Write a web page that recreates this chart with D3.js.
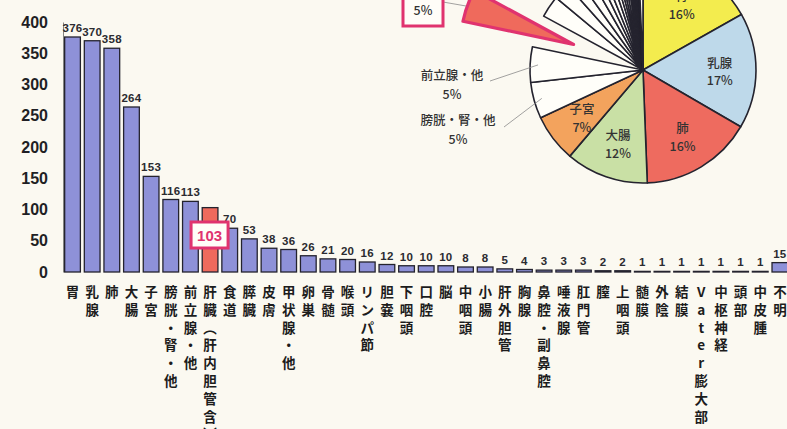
<!DOCTYPE html>
<html>
<head>
<meta charset="utf-8">
<script src="https://cdn.jsdelivr.net/npm/d3@7"></script>
<style>
  html, body { margin: 0; padding: 0; background: #fbf9f1; }
  svg { display: block; }
</style>
</head>
<body>
<svg id="chart" width="787" height="429"></svg>
<script>
// 部位別の件数
const categories = [
  "胃", "乳腺", "肺", "大腸", "子宮", "膀胱・腎・他", "前立腺・他", "肝臓︵肝内胆管含︶",
  "食道", "膵臓", "皮膚", "甲状腺・他", "卵巣", "骨髄", "喉頭", "リンパ節", "胆嚢",
  "下咽頭", "口腔", "脳", "中咽頭", "小腸", "肝外胆管", "胸腺", "鼻腔・副鼻腔",
  "唾液腺", "肛門管", "膣", "上咽頭", "髄膜", "外陰", "結膜", "Vater膨大部",
  "中枢神経", "頭部", "中皮腫", "不明"
];
const counts = [
  376, 370, 358, 264, 153, 116, 113, 103, 70, 53, 38, 36, 26, 21, 20, 16, 12,
  10, 10, 10, 8, 8, 5, 4, 3, 3, 3, 2, 2, 1, 1, 1, 1, 1, 1, 1, 15
];
const yTicks = [0, 50, 100, 150, 200, 250, 300, 350, 400];
const highlightIndex = 7;

// 円グラフのラベル(上位の部位)
const pieLabels = ["胃", "乳腺", "肺", "大腸", "子宮", "膀胱・腎・他", "前立腺・他", "肝臓"];
const piePercents = ["16%", "17%", "16%", "12%", "7%", "5%", "5%", "5%"];
const pieColors = ["#f3ec4e", "#bed9ea", "#ee6b5f", "#c9e0a5", "#f3a35d"];

const svg = d3.select("#chart");
const ink = "#24232e";
const accent = "#e0336f";
const barFill = "#8e91d8";
const hiFill = "#ef6a5c";

// ---------- 棒グラフ ----------
const x = d3.scaleBand()
  .domain(d3.range(categories.length))
  .range([62.7, 789.7])
  .paddingInner(0.2)
  .paddingOuter(0.1);
const y = d3.scaleLinear().domain([0, 400]).range([272, 22]);

const yAxis = svg.append("g")
  .attr("transform", "translate(63,0)")
  .call(d3.axisLeft(y).tickValues(yTicks).tickSize(0).tickPadding(15));
yAxis.select(".domain").attr("stroke", "#666").attr("stroke-width", 0.8);
yAxis.selectAll("text")
  .attr("font-family", "Liberation Sans, Arial, sans-serif")
  .attr("font-weight", "bold")
  .attr("font-size", 16)
  .attr("fill", "#1f1f24");

svg.append("g").selectAll("rect")
  .data(counts)
  .join("rect")
  .attr("x", (d, i) => x(i))
  .attr("width", x.bandwidth())
  .attr("y", d => y(d))
  .attr("height", d => y(0) - y(d))
  .attr("fill", (d, i) => i === highlightIndex ? hiFill : barFill)
  .attr("stroke", ink)
  .attr("stroke-width", 1.3);

// 値ラベル(肝臓は囲みで表示)
svg.append("g").selectAll("text")
  .data(counts.map((v, i) => ({ v, i })).filter(d => d.i !== highlightIndex))
  .join("text")
  .attr("x", d => x(d.i) + x.bandwidth() / 2)
  .attr("y", d => y(d.v) - 5)
  .attr("text-anchor", "middle")
  .attr("font-family", "Liberation Sans, Arial, sans-serif")
  .attr("font-weight", "bold")
  .attr("font-size", 11.5)
  .attr("letter-spacing", 0.3)
  .attr("fill", "#2b2b30")
  .text(d => d.v);

// 縦書きの部位名(1文字ずつ積む)
const xl = svg.append("g")
  .attr("font-family", "Noto Sans CJK JP, sans-serif")
  .attr("font-weight", "bold")
  .attr("font-size", 13.5)
  .attr("fill", "#1c1c1c");
categories.forEach((name, i) => {
  const cx = x(i) + x.bandwidth() / 2;
  Array.from(name).forEach((ch, k) => {
    xl.append("text")
      .attr("x", cx)
      .attr("y", 297 + k * 17.8)
      .attr("text-anchor", "middle")
      .text(ch);
  });
});

// 肝臓の強調ラベル
const hv = counts[highlightIndex];
const hx = x(highlightIndex) + x.bandwidth() / 2;
svg.append("rect")
  .attr("x", hx - 19).attr("y", 222)
  .attr("width", 37).attr("height", 26)
  .attr("fill", "#fffdf8")
  .attr("stroke", accent)
  .attr("stroke-width", 3);
svg.append("text")
  .attr("x", hx - 0.5).attr("y", 240.5)
  .attr("text-anchor", "middle")
  .attr("font-family", "Liberation Sans, Arial, sans-serif")
  .attr("font-weight", "bold")
  .attr("font-size", 15)
  .attr("fill", accent)
  .text(hv);

// ---------- 円グラフ ----------
const cx0 = 643, cy0 = 70, R = 113, explode = 74;
const pie = d3.pie().sort(null).value(d => d);
const slices = pie(counts);
const arc = d3.arc().innerRadius(0).outerRadius(R);
const labelArc = d3.arc().innerRadius(R * 0.68).outerRadius(R * 0.68);

const pg = svg.append("g").attr("transform", `translate(${cx0},${cy0})`);
pg.selectAll("path.slice")
  .data(slices.filter(s => s.index !== highlightIndex))
  .join("path")
  .attr("class", "slice")
  .attr("d", arc)
  .attr("fill", d => d.index < pieColors.length ? pieColors[d.index] : "#fffef9")
  .attr("stroke", ink)
  .attr("stroke-width", 1.6)
  .attr("stroke-linejoin", "round");

// 切り出した肝臓のスライス
const hs = slices[highlightIndex];
const mid = (hs.startAngle + hs.endAngle) / 2;
pg.append("path")
  .attr("d", arc(hs))
  .attr("transform", `translate(${Math.sin(mid) * explode},${-Math.cos(mid) * explode})`)
  .attr("fill", hiFill)
  .attr("stroke", accent)
  .attr("stroke-width", 3.2)
  .attr("stroke-linejoin", "round");

// スライス内のラベル
const lab = pg.append("g")
  .attr("font-family", "Noto Sans CJK JP, sans-serif")
  .attr("font-weight", 500)
  .attr("font-size", 12.5)
  .attr("fill", "#333")
  .attr("text-anchor", "middle");
slices.slice(0, pieColors.length).forEach(s => {
  const [lx, ly] = labelArc.centroid(s);
  lab.append("text").attr("x", lx).attr("y", ly - 3).text(pieLabels[s.index]);
  lab.append("text").attr("x", lx).attr("y", ly + 15).text(piePercents[s.index]);
});

// 外側のラベルと引き出し線
const leaderArc = d3.arc().innerRadius(R * 0.93).outerRadius(R * 0.93);
const leaders = svg.append("g");
[[5, 504, 127], [6, 490, 81]].forEach(([idx, lx0, ly0]) => {
  const [ex, ey] = leaderArc.centroid(slices[idx]);
  leaders.append("line")
    .attr("x1", lx0).attr("y1", ly0)
    .attr("x2", cx0 + ex).attr("y2", cy0 + ey)
    .attr("stroke", "#8a8a8a").attr("stroke-width", 0.8);
});
leaders.append("line")
  .attr("x1", 443).attr("y1", 2).attr("x2", 466).attr("y2", 6)
  .attr("stroke", "#8a8a8a").attr("stroke-width", 0.8);

// 肝臓の囲み
svg.append("rect")
  .attr("x", 403).attr("y", -12)
  .attr("width", 40).attr("height", 38)
  .attr("fill", "#fffdf8")
  .attr("stroke", accent)
  .attr("stroke-width", 3);

const outer = svg.append("g")
  .attr("font-family", "Noto Sans CJK JP, sans-serif")
  .attr("font-weight", 500)
  .attr("font-size", 12.5)
  .attr("fill", "#333")
  .attr("text-anchor", "middle");
[[5, 458, 121], [6, 452, 76], [highlightIndex, 423, -8]].forEach(([idx, tx, ty]) => {
  outer.append("text").attr("x", tx).attr("y", ty + 4).text(pieLabels[idx]);
  outer.append("text").attr("x", tx).attr("y", ty + 23).text(piePercents[idx]);
});
</script>
</body>
</html>
